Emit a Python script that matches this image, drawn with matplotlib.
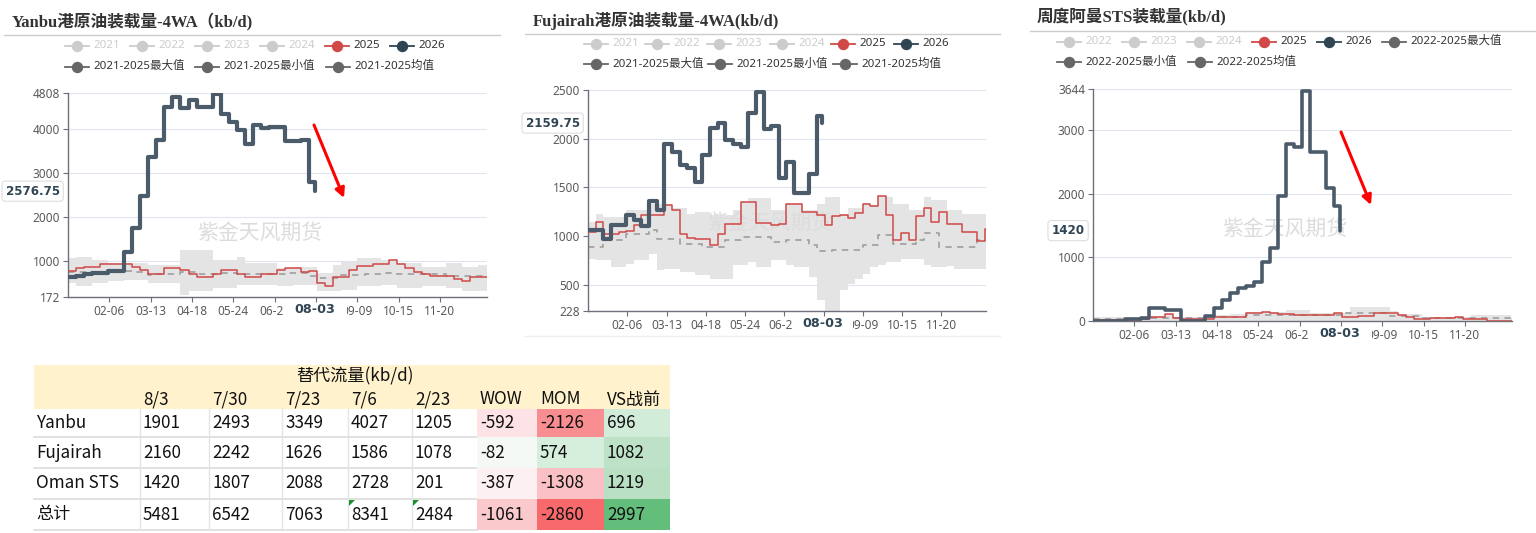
import numpy as np
import matplotlib
matplotlib.use('Agg')
import matplotlib.pyplot as plt
import matplotlib.transforms as mtransforms
from matplotlib.lines import Line2D
from matplotlib.patches import Rectangle, Polygon, FancyArrowPatch

plt.rcParams['font.family'] = ['Noto Sans', 'Noto Sans CJK SC', 'DejaVu Sans']

# ---------------- data ----------------
tick_days = [36, 72, 108, 144, 180, 216, 252, 288, 324]
tick_labels = ['02-06', '03-13', '04-18', '05-24', '06-29', '', '09-09', '10-15', '11-20']
latest_day = 215
latest_label = '08-03'

# Yanbu (kb/d), weekly values
yanbu_2026 = [630, 660, 700, 720, 720, 760, 770, 1198, 1730, 2475, 3364, 3744, 4489, 4709, 4466, 4656,
              4489, 4489, 4790, 4337, 4139, 3972, 3653, 4071, 4010, 4033, 4033, 3706, 3706, 3744, 2794]
yanbu_2026_latest = 2576.75
yanbu_2025 = [765, 833, 856, 856, 917, 917, 917, 917, 856, 780, 704, 704, 833, 833, 780, 704, 628, 628,
              689, 795, 795, 689, 628, 628, 689, 689, 795, 833, 833, 742, 765, 499, 423, 628, 628, 795,
              879, 879, 932, 932, 1008, 932, 833, 742, 689, 643, 643, 643, 590, 537, 628, 628, 628]
yanbu_max = [1053, 1070, 1090, 1015, 1015, 940, 940, 940, 940, 940, 900, 900, 900, 900, 1240, 1240, 1240,
             1240, 1015, 1015, 1015, 1090, 940, 940, 940, 940, 827, 827, 865, 865, 865, 714, 714, 900, 977,
             977, 1053, 1053, 1053, 1015, 1015, 940, 940, 940, 865, 865, 865, 940, 940, 865, 865, 900, 900]
yanbu_min = [480, 413, 413, 488, 488, 525, 525, 563, 563, 563, 488, 488, 488, 488, 225, 300, 300, 300, 375,
             375, 375, 450, 450, 450, 450, 450, 413, 413, 450, 450, 450, 300, 300, 300, 338, 338, 413, 413,
             413, 450, 450, 375, 375, 375, 413, 413, 413, 375, 375, 300, 300, 300, 300]
yanbu_mean = [740, 740, 740, 740, 740, 760, 760, 760, 740, 740, 680, 690, 690, 690, 740, 740, 700, 700, 700,
              720, 720, 690, 690, 690, 700, 700, 700, 720, 720, 720, 650, 600, 600, 600, 680, 680, 680, 700,
              700, 720, 720, 690, 690, 690, 700, 700, 700, 650, 650, 650, 650, 650, 650]

# Fujairah (kb/d), weekly values
fuj_2026 = [1065, 1060, 972, 1110, 1113, 1213, 1162, 1100, 1357, 1271, 1944, 1865, 1724, 1700, 1556, 1830,
            2105, 2157, 1985, 1944, 1917, 2260, 2476, 2098, 2133, 1591, 1762, 1446, 1446, 1632, 2232]
fuj_2026_latest = 2159.75
fuj_2025 = [1041, 1144, 1024, 1024, 1041, 1048, 1110, 1213, 1213, 1213, 1316, 1264, 1024, 979, 972, 972, 910,
            1024, 1127, 1127, 1350, 1350, 1137, 1137, 1110, 1127, 1333, 1333, 1247, 1247, 1213, 1117, 1203,
            1213, 1189, 1237, 1326, 1306, 1409, 1213, 955, 1031, 955, 1203, 1292, 1144, 1247, 1127, 1127,
            1041, 1041, 948, 1076]
fuj_max = [1144, 1230, 1196, 1196, 1196, 1264, 1264, 1264, 1333, 1333, 1330, 1282, 1282, 1230, 1247, 1247,
           1220, 1220, 1220, 1264, 1360, 1385, 1385, 1385, 1264, 1264, 1340, 1340, 1264, 1264, 1333, 1402,
           1402, 1230, 1282, 1282, 1340, 1316, 1415, 1402, 1333, 1333, 1264, 1264, 1395, 1368, 1368, 1264,
           1264, 1230, 1230, 1230, 1230]
fuj_min = [767, 756, 756, 681, 681, 716, 750, 750, 818, 646, 660, 660, 630, 630, 595, 595, 561, 561, 561, 698,
           698, 732, 681, 681, 750, 750, 698, 681, 681, 578, 340, 200, 200, 441, 510, 560, 613, 681, 700, 732,
           732, 767, 767, 767, 698, 683, 683, 690, 664, 664, 664, 664, 664]
fuj_mean = [887, 887, 955, 955, 955, 1017, 1017, 1017, 1058, 972, 972, 972, 921, 921, 921, 887, 887, 887, 955,
            955, 990, 990, 990, 990, 938, 938, 955, 955, 955, 904, 845, 845, 860, 860, 860, 860, 904, 904,
            1007, 1007, 921, 921, 921, 955, 1030, 1030, 887, 887, 887, 887, 887, 955, 955]

# Oman STS (kb/d), weekly values
oman_2026 = [5, 5, 5, 5, 26, 26, 42, 199, 199, 173, 173, 5, 5, 5, 78, 199, 330, 435, 513, 555, 607, 932,
             1141, 1963, 2780, 2738, 3618, 2649, 2649, 2084, 1806]
oman_2026_latest = 1420
oman_2025 = [20, 20, 20, 20, 20, 20, 30, 68, 68, 110, 52, 26, 26, 26, 26, 58, 58, 58, 60, 131, 120, 136, 120,
             105, 105, 94, 94, 94, 94, 94, 120, 68, 68, 78, 78, 131, 131, 131, 94, 68, 26, 26, 42, 42, 42, 58,
             26, 26, 26, 5, 5, 5, 5]
oman_max = [68, 68, 68, 68, 40, 40, 40, 80, 80, 115, 60, 60, 60, 60, 90, 90, 90, 110, 110, 145, 145, 145, 145,
            145, 165, 165, 165, 130, 130, 130, 130, 130, 225, 225, 225, 225, 225, 150, 110, 110, 110, 60, 60,
            60, 60, 60, 60, 94, 94, 94, 94, 94, 40]
oman_min = [0, 0, 0, 0, 0, 0, 0, 0, 0, 0, 0, 0, 0, 0, 0, 0, 0, 0, 0, 0, 0, 0, 0, 0, 0, 0, 0, 0, 0, 0, 0, 0,
            0, 0, 0, 0, 0, 0, 0, 0, 0, 0, 0, 0, 0, 0, 0, 0, 0, 0, 0, 0, 0]
oman_mean = [25, 25, 25, 25, 25, 25, 25, 40, 40, 40, 40, 40, 40, 40, 60, 60, 60, 60, 60, 90, 90, 90, 90, 90,
             100, 100, 100, 100, 100, 100, 100, 120, 120, 120, 120, 120, 120, 80, 80, 80, 80, 40, 40, 40, 40,
             40, 40, 40, 40, 40, 40, 40, 40]

# Table
tbl_title = '替代流量(kb/d)'
tbl_cols = ['8/3', '7/30', '7/23', '7/6', '2/23', 'WOW', 'MOM', 'VS战前']
tbl_rows = ['Yanbu', 'Fujairah', 'Oman STS', '总计']
tbl_vals = [[1901, 2493, 3349, 4027, 1205, -592, -2126, 696],
            [2160, 2242, 1626, 1586, 1078, -82, 574, 1082],
            [1420, 1807, 2088, 2728, 201, -387, -1308, 1219],
            [5481, 6542, 7063, 8341, 2484, -1061, -2860, 2997]]

# ---------------- figure ----------------
W, H = 1536, 533
fig = plt.figure(figsize=(W / 100, H / 100), dpi=100)
fig.patch.set_facecolor('white')


def P(x, y):
    return (x / W, 1 - y / H)


C_RED = '#d04848'
C_DARK_LINE = '#4b5b6a'
C_DARK = '#2f4554'
C_GRAY = '#cccccc'
C_STAT = '#666666'
BOLD_FAMILY = ['DejaVu Sans']


def legend_item(x, y, color, text, tcolor):
    fig.add_artist(Line2D([(x - 12) / W, (x + 12) / W], [1 - y / H, 1 - y / H], color=color, lw=1.3,
                          transform=fig.transFigure))
    fig.add_artist(Line2D([x / W], [1 - y / H], marker='o', ms=7.2, color=color, mec=color, lw=0,
                          transform=fig.transFigure))
    fig.text(*P(x + 16, y), text, color=tcolor, fontsize=8.3, va='center', ha='left')


def panel(rect, ylim, yticks, y25, y26, latest, bmax, bmin, bmean, lw26, title, title_xy, sep,
          legend_rows, wm_xy):
    l, r, t, b = rect
    ax = fig.add_axes([l / W, 1 - b / H, (r - l) / W, (b - t) / H])
    xs = np.append(np.arange(len(y25)) * 7, 365)
    ext = lambda v: np.append(v, v[-1])
    ax.fill_between(xs, ext(bmin), ext(bmax), step='post', color='#e4e4e4', lw=0, zorder=1)
    ax.text(wm_xy[0] / W, 1 - wm_xy[1] / H, '紫金天风期货', transform=fig.transFigure, fontsize=15,
            color='#dcdcdc', ha='center', va='center', zorder=1.5, family=['Noto Sans CJK SC'])
    ax.plot(xs, ext(bmean), drawstyle='steps-post', color='#a3a3a3', lw=1.3, dashes=(3.5, 3), zorder=2)
    ax.plot(xs, ext(y25), drawstyle='steps-post', color=C_RED, lw=1.1, zorder=3)
    x26 = np.append(np.arange(len(y26)) * 7, latest_day)
    ax.plot(x26, np.append(y26, latest), drawstyle='steps-post', color=C_DARK_LINE, lw=lw26,
            solid_joinstyle='round', solid_capstyle='round', zorder=4)
    ax.set_xlim(0, 365)
    ax.set_ylim(*ylim)
    ax.set_yticks(yticks)
    ax.set_yticklabels([str(v) for v in yticks])
    ax.set_xticks(tick_days)
    ax.set_xticklabels(tick_labels)
    for s in ['top', 'right']:
        ax.spines[s].set_visible(False)
    for s in ['left', 'bottom']:
        ax.spines[s].set_color('#6E7079')
        ax.spines[s].set_linewidth(1.0)
    ax.grid(axis='y', color='#E0E6F1', lw=0.8)
    ax.set_axisbelow(True)
    ax.tick_params(axis='y', length=3.6, width=0.8, color='#6E7079', labelcolor='#5a5a5a',
                   labelsize=8.5, pad=2)
    ax.tick_params(axis='x', length=3.6, width=0.8, color='#6E7079', labelcolor='#5a5a5a',
                   labelsize=8.5, pad=2.5)
    # axis pointer labels
    blend = mtransforms.blended_transform_factory(ax.transData, ax.transAxes)
    ax.add_patch(Rectangle((latest_day - 28, -0.115), 56, 0.085, transform=blend, facecolor='white',
                           edgecolor='none', clip_on=False, zorder=5))
    ax.annotate(latest_label, xy=(latest_day, 0), xycoords=blend, xytext=(0, -9.3),
                textcoords='offset points', ha='center', va='center', fontsize=9.2, weight='bold',
                family=BOLD_FAMILY, color=C_DARK, annotation_clip=False, zorder=6)
    ax.annotate(f'{latest:g}', xy=(0, latest), xycoords=('axes fraction', 'data'), xytext=(-6, 0),
                textcoords='offset points', ha='right', va='center', fontsize=8.6, weight='bold',
                family=BOLD_FAMILY, color=C_DARK, annotation_clip=False, zorder=6,
                bbox=dict(boxstyle='round,pad=0.3', fc='white', ec='#dddddd', lw=0.8))
    # title, separator, legend
    fig.text(*P(*title_xy), title, family=['Liberation Serif', 'Noto Sans CJK SC'], weight='bold',
             fontsize=12, color='#333333', va='center', ha='left')
    fig.add_artist(Line2D([sep[0] / W, sep[1] / W], [1 - sep[2] / H, 1 - sep[2] / H], color='#cccccc',
                          lw=1.0, transform=fig.transFigure))
    for (x, y, col, txt, tcol) in legend_rows:
        legend_item(x, y, col, txt, tcol)
    return ax


yanbu_legend = [(77, 45.5, C_GRAY, '2021', C_GRAY), (142, 45.5, C_GRAY, '2022', C_GRAY),
                (207, 45.5, C_GRAY, '2023', C_GRAY), (272, 45.5, C_GRAY, '2024', C_GRAY),
                (337, 45.5, C_RED, '2025', '#333333'), (402, 45.5, C_DARK, '2026', '#333333'),
                (77, 66.5, C_STAT, '2021-2025最大值', '#333333'), (207, 66.5, C_STAT, '2021-2025最小值', '#333333'),
                (338, 66.5, C_STAT, '2021-2025均值', '#333333')]
fuj_legend = [(596, 44, C_GRAY, '2021', C_GRAY), (657, 44, C_GRAY, '2022', C_GRAY),
              (719, 44, C_GRAY, '2023', C_GRAY), (782, 44, C_GRAY, '2024', C_GRAY),
              (843, 44, C_RED, '2025', '#333333'), (906, 44, C_DARK, '2026', '#333333'),
              (596, 64, C_STAT, '2021-2025最大值', '#333333'), (720, 64, C_STAT, '2021-2025最小值', '#333333'),
              (845, 64, C_STAT, '2021-2025均值', '#333333')]
oman_legend = [(1069, 41.5, C_GRAY, '2022', C_GRAY), (1134, 41.5, C_GRAY, '2023', C_GRAY),
               (1199, 41.5, C_GRAY, '2024', C_GRAY), (1264, 41.5, C_RED, '2025', '#333333'),
               (1329, 41.5, C_DARK, '2026', '#333333'), (1394, 41.5, C_STAT, '2022-2025最大值', '#333333'),
               (1069, 62, C_STAT, '2022-2025最小值', '#333333'), (1200, 62, C_STAT, '2022-2025均值', '#333333')]

panel((68, 487, 93, 297), (172, 4808), [172, 1000, 2000, 3000, 4000, 4808], yanbu_2025, yanbu_2026,
      yanbu_2026_latest, yanbu_max, yanbu_min, yanbu_mean, 3.0, 'Yanbu港原油装载量-4WA（kb/d)', (12, 21),
      (4, 500, 35), yanbu_legend, (260, 233))
panel((588, 986, 90, 311), (228, 2500), [228, 500, 1000, 1500, 2000, 2500], fuj_2025, fuj_2026,
      fuj_2026_latest, fuj_max, fuj_min, fuj_mean, 3.0, 'Fujairah港原油装载量-4WA(kb/d)', (533, 21),
      (525, 1000, 34), fuj_legend, (770, 223))
panel((1093, 1512, 89, 321), (0, 3644), [0, 1000, 2000, 3000, 3644], oman_2025, oman_2026,
      oman_2026_latest, oman_max, oman_min, oman_mean, 2.6, '周度阿曼STS装载量(kb/d)', (1037, 17),
      (1030, 1536, 31), oman_legend, (1285, 229))

# faint frame under Fujairah panel
fig.add_artist(Line2D([525 / W, 1000 / W], [1 - 336 / H, 1 - 336 / H], color='#eeeeee', lw=1,
                      transform=fig.transFigure))

# red arrows
for (x0, y0, x1, y1) in [(314, 125, 344, 198), (1341, 132, 1371, 205)]:
    fig.add_artist(FancyArrowPatch(P(x0, y0), P(x1, y1), transform=fig.transFigure, arrowstyle='-|>',
                                   mutation_scale=14, color='#ff0000', lw=2.2, shrinkA=0, shrinkB=0))

# ---------------- table ----------------
col_edges = [34, 140, 209, 282, 348, 412, 477, 537, 604, 670]
row_edges = [365, 388, 409, 437, 468, 499, 530]
cell_colors = {(0, 5): '#FDE3E5', (0, 6): '#F88E91', (0, 7): '#D2ECDA',
               (1, 5): '#F5F9F6', (1, 6): '#D6EEDC', (1, 7): '#BEE2C7',
               (2, 5): '#FDF0F3', (2, 6): '#FAC0C4', (2, 7): '#B9E0C3',
               (3, 5): '#F9C9CC', (3, 6): '#F8696B', (3, 7): '#63BE7B'}


def rect_px(x0, y0, x1, y1, color, z=1):
    fig.add_artist(Rectangle((x0 / W, 1 - y1 / H), (x1 - x0) / W, (y1 - y0) / H, transform=fig.transFigure,
                             facecolor=color, edgecolor='none', zorder=z))


rect_px(col_edges[0], row_edges[0], col_edges[-1], row_edges[2], '#FFF2CC')
for yv in row_edges[3:]:
    fig.add_artist(Line2D([col_edges[0] / W, col_edges[6] / W], [1 - yv / H, 1 - yv / H], color='#dcdcdc',
                          lw=1.2, transform=fig.transFigure, zorder=2))
for xv in col_edges[1:6]:
    fig.add_artist(Line2D([xv / W, xv / W], [1 - row_edges[2] / H, 1 - row_edges[-1] / H], color='#e4e4e4',
                          lw=1.0, transform=fig.transFigure, zorder=2))
for (ri, ci), c in cell_colors.items():
    rect_px(col_edges[ci + 1], row_edges[ri + 2], col_edges[ci + 2], row_edges[ri + 3], c, z=2.5)

TF = dict(fontsize=12.3, color='#111111', va='center', ha='left', family=['Noto Sans CJK SC'], zorder=3)
fig.text(*P((col_edges[0] + col_edges[-1]) / 2 + 3, (row_edges[0] + row_edges[1]) / 2), tbl_title,
         **{**TF, 'ha': 'center'})
for ci, c in enumerate(tbl_cols):
    fig.text(*P(col_edges[ci + 1] + 3, (row_edges[1] + row_edges[2]) / 2 + 1), c, **TF)
for ri, rname in enumerate(tbl_rows):
    yc = (row_edges[ri + 2] + row_edges[ri + 3]) / 2
    fig.text(*P(col_edges[0] + 2, yc), rname, **TF)
    for ci, v in enumerate(tbl_vals[ri]):
        fig.text(*P(col_edges[ci + 1] + 3, yc), str(v), **TF)

# small green comment markers
for ci in (3, 4):
    x0, y0 = col_edges[ci + 1] + 1, row_edges[5] + 1
    fig.add_artist(Polygon([P(x0, y0), P(x0 + 6, y0), P(x0, y0 + 6)], closed=True, transform=fig.transFigure,
                           facecolor='#1e8f32', edgecolor='none', zorder=4))

fig.savefig('out.png', dpi=100, facecolor='white')
